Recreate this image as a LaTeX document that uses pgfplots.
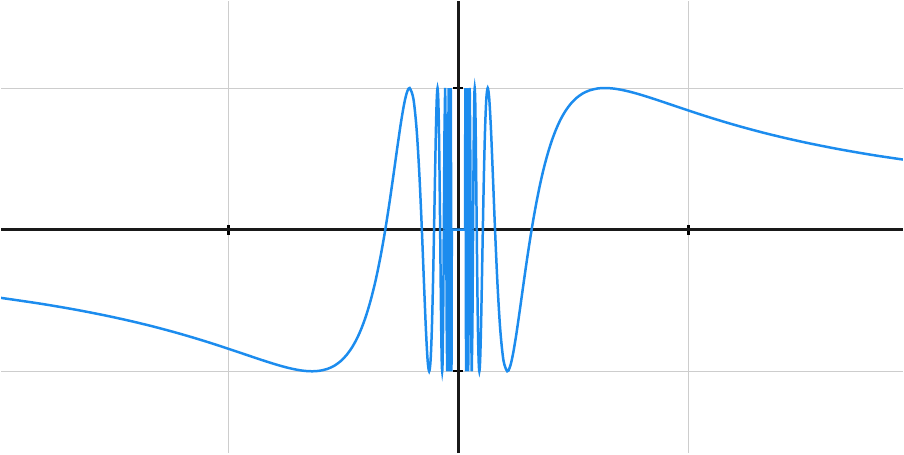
\documentclass[border=0pt]{standalone}
\usepackage{pgfplots}
\pgfplotsset{compat=1.18}
\definecolor{curve}{RGB}{28,140,238}
\definecolor{gridc}{RGB}{205,205,205}
\begin{document}
\begin{tikzpicture}
\begin{axis}[
  scale only axis, width=452pt, height=226.5pt,
  xmin=-1.989, xmax=1.933, ymin=-1.577, ymax=1.613,
  axis lines=middle, axis line style={-, line width=1.2pt, black!90},
  xtick={-1,1}, ytick={-1,1}, xticklabels={}, yticklabels={},
  major tick length=5pt, tick style={line width=1.2pt, black},
  grid=major, grid style={gridc, line width=0.5pt},
  clip=true,
]
% right side, smooth part
\addplot[curve, line width=1.25pt, smooth] coordinates {
(2.0,0.4794)(1.8182,0.5227)(1.6667,0.5646)(1.5385,0.6052)(1.4286,0.6442)(1.3333,0.6816)(1.25,0.7174)(1.1765,0.7513)(1.1111,0.7833)(1.0526,0.8134)(1.0,0.8415)(0.9524,0.8674)(0.9091,0.8912)(0.8696,0.9128)(0.8333,0.9320)(0.8,0.9490)(0.7692,0.9636)(0.7407,0.9757)(0.7143,0.9854)(0.6897,0.9927)(0.6667,0.9975)(0.6366,1)(0.6061,0.9969)(0.5714,0.9840)(0.5405,0.9613)(0.5128,0.9290)(0.4878,0.8874)(0.4651,0.8369)(0.4444,0.7781)(0.4255,0.7115)(0.4082,0.6378)(0.3922,0.5577)(0.3774,0.4720)(0.3636,0.3817)(0.3509,0.2875)(0.3390,0.1904)(0.3279,0.0915)(0.3183,0)(0.3077,-0.1082)(0.2985,-0.2069)(0.2899,-0.3035)(0.2817,-0.3971)(0.2740,-0.4868)(0.2667,-0.5716)(0.2597,-0.6506)(0.2532,-0.7232)(0.2469,-0.7885)(0.2381,-0.8716)(0.2299,-0.9349)(0.2222,-0.9775)(0.21221,-1)
(0.19588,-0.9239)(0.18189,-0.7071)(0.16977,-0.3827)(0.15915,0)(0.14979,0.3827)(0.14147,0.7071)(0.13403,0.9239)(0.12732,1)(0.12126,0.9239)(0.11575,0.7071)(0.11072,0.3827)(0.10610,0)(0.10186,-0.3827)(0.09794,-0.7071)(0.09431,-0.9239)(0.09095,-1)(0.08781,-0.9239)(0.08488,-0.7071)(0.08214,-0.3827)(0.07958,0)(0.07717,0.3827)(0.07490,0.7071)(0.07276,0.9239)(0.07074,1)(0.06882,0.9239)(0.06701,0.7071)(0.06530,0.3827)(0.06366,0)
};
% inner spikes
\addplot[curve, line width=1.25pt] coordinates {
(0.06366,0)(0.06063,-0.7071)(0.05787,-1)(0.05536,-0.7071)(0.05305,0)(0.05093,0.7071)(0.04897,1)(0.04716,0.7071)(0.04547,0)(0.04391,-0.7071)(0.04244,-1)(0.04107,-0.7071)(0.03979,0)(0.03858,0.7071)(0.03745,1)(0.03638,0.7071)(0.03537,0)(0.03441,-0.7071)(0.03351,-1)(0.03265,-0.7071)(0.03183,0)(0.03105,0.7071)(0.03032,1)(0.02961,0.7071)(0.02894,0)
(-0.02894,0)(-0.02961,-0.7071)(-0.03032,-1)(-0.03105,-0.7071)(-0.03183,0)(-0.03265,0.7071)(-0.03351,1)(-0.03441,0.7071)(-0.03537,0)(-0.03638,-0.7071)(-0.03745,-1)(-0.03858,-0.7071)(-0.03979,0)(-0.04107,0.7071)(-0.04244,1)(-0.04391,0.7071)(-0.04547,0)(-0.04716,-0.7071)(-0.04897,-1)(-0.05093,-0.7071)(-0.05305,0)(-0.05536,0.7071)(-0.05787,1)(-0.06063,0.7071)(-0.06366,0)
};
% left side, smooth part
\addplot[curve, line width=1.25pt, smooth] coordinates {
(-0.06366,0)(-0.06530,-0.3827)(-0.06701,-0.7071)(-0.06882,-0.9239)(-0.07074,-1)(-0.07276,-0.9239)(-0.07490,-0.7071)(-0.07717,-0.3827)(-0.07958,0)(-0.08214,0.3827)(-0.08488,0.7071)(-0.08781,0.9239)(-0.09095,1)(-0.09431,0.9239)(-0.09794,0.7071)(-0.10186,0.3827)(-0.10610,0)(-0.11072,-0.3827)(-0.11575,-0.7071)(-0.12126,-0.9239)(-0.12732,-1)(-0.13403,-0.9239)(-0.14147,-0.7071)(-0.14979,-0.3827)(-0.15915,0)(-0.16977,0.3827)(-0.18189,0.7071)(-0.19588,0.9239)
(-0.21221,1)(-0.2222,0.9775)(-0.2299,0.9349)(-0.2381,0.8716)(-0.2469,0.7885)(-0.2532,0.7232)(-0.2597,0.6506)(-0.2667,0.5716)(-0.2740,0.4868)(-0.2817,0.3971)(-0.2899,0.3035)(-0.2985,0.2069)(-0.3077,0.1082)(-0.3183,0)(-0.3279,-0.0915)(-0.3390,-0.1904)(-0.3509,-0.2875)(-0.3636,-0.3817)(-0.3774,-0.4720)(-0.3922,-0.5577)(-0.4082,-0.6378)(-0.4255,-0.7115)(-0.4444,-0.7781)(-0.4651,-0.8369)(-0.4878,-0.8874)(-0.5128,-0.9290)(-0.5405,-0.9613)(-0.5714,-0.9840)(-0.6061,-0.9969)(-0.6366,-1)(-0.6667,-0.9975)(-0.6897,-0.9927)(-0.7143,-0.9854)(-0.7407,-0.9757)(-0.7692,-0.9636)(-0.8,-0.9490)(-0.8333,-0.9320)(-0.8696,-0.9128)(-0.9091,-0.8912)(-0.9524,-0.8674)(-1.0,-0.8415)(-1.0526,-0.8134)(-1.1111,-0.7833)(-1.1765,-0.7513)(-1.25,-0.7174)(-1.3333,-0.6816)(-1.4286,-0.6442)(-1.5385,-0.6052)(-1.6667,-0.5646)(-1.8182,-0.5227)(-2.0,-0.4794)
};
\end{axis}
\end{tikzpicture}
\end{document}
